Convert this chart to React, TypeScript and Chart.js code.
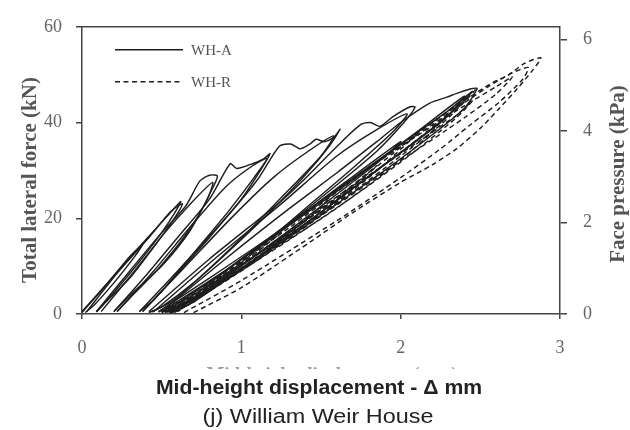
import React, { useEffect, useRef } from "react";
import { Chart, registerables } from "chart.js";

Chart.register(...registerables);

// ---- axis ticks ----
const xTicks = [0, 1, 2, 3];
const forceTicks = [0, 20, 40, 60];
const pressureTicks = [0, 2, 4, 6];
const pressureMax = 6.28;

// ---- labels ----
const legendLabels = ["WH-A", "WH-R"];
const leftTitle = "Total lateral force (kN)";
const rightTitle = "Face pressure (kPa)";
const ghostTitle = "Mid-height displacement (mm)";
const xTitle = "Mid-height displacement - \u0394 mm";
const caption = "(j) William Weir House";

// ---- WH-A (solid) cycles: [displacement mm, force kN] ----
const whA1 = [[0, 0.3], [0.15, 6], [0.3, 12], [0.38, 14.5], [0.33, 12], [0.2, 6.5], [0.08, 2], [0.02, 0.3]];
const whA2 = [[0, 0.5], [0.2, 8], [0.4, 15.5], [0.55, 21], [0.62, 23.5], [0.58, 21], [0.5, 17], [0.35, 10.5], [0.2, 4.5], [0.09, 0.5]];
const whA3 = [[0.03, 0.5], [0.22, 8.5], [0.42, 16], [0.56, 21.5], [0.63, 23], [0.57, 19.5], [0.45, 14], [0.3, 7.5], [0.15, 2.5], [0.09, 0.4]];
const whA4 = [[0.09, 0.5], [0.3, 9], [0.5, 17], [0.65, 22.5], [0.74, 27.8], [0.8, 29], [0.85, 28.8], [0.8, 25], [0.68, 17.5], [0.5, 10], [0.32, 4.5], [0.2, 0.5]];
const whA5 = [[0.12, 0.5], [0.33, 9], [0.52, 17], [0.68, 23], [0.82, 27.5], [0.78, 23.5], [0.65, 16.5], [0.48, 9.5], [0.32, 4], [0.22, 0.5]];
const whA6 = [[0.2, 0.5], [0.4, 8], [0.6, 16], [0.8, 24], [0.93, 31.4], [0.97, 30.4], [1.07, 31.4], [1.14, 32.4], [1.18, 33.5], [1.12, 30], [1.0, 24], [0.8, 16], [0.6, 8.5], [0.45, 3], [0.36, 0.5]];
const whA7 = [[0.22, 0.5], [0.45, 9], [0.7, 19], [0.9, 26.5], [1.05, 30.5], [1.16, 32.5], [1.08, 28.5], [0.92, 21.5], [0.72, 13.5], [0.52, 5.5], [0.38, 0.5]];
const whA8 = [[0.36, 0.5], [0.6, 9], [0.9, 20], [1.1, 28], [1.24, 35.1], [1.31, 35.5], [1.37, 34.5], [1.43, 35.5], [1.47, 36.5], [1.52, 36], [1.58, 36.9], [1.62, 38.6], [1.55, 35], [1.4, 29], [1.2, 22], [0.95, 14], [0.7, 6.5], [0.5, 1.5], [0.42, 0.3]];
const whA9 = [[0.38, 0.5], [0.65, 10], [0.95, 20.5], [1.2, 28.5], [1.42, 34], [1.58, 37.2], [1.5, 33], [1.3, 26], [1.05, 17.5], [0.8, 9.5], [0.58, 3], [0.44, 0.4]];
const whA10 = [[0.42, 0.5], [0.8, 11.5], [1.24, 23.3], [1.37, 27.3], [1.6, 35], [1.75, 39.6], [1.81, 40], [1.87, 39.2], [1.95, 41.2], [2.06, 43.3], [2.09, 43.2], [2.02, 40], [1.85, 34], [1.6, 27], [1.3, 19], [1.0, 11.5], [0.7, 4], [0.5, 0.5]];
const whA11 = [[0.45, 0.5], [0.85, 12], [1.25, 23], [1.6, 33], [1.85, 38.5], [2.04, 41.8], [1.95, 38], [1.7, 30.5], [1.4, 22], [1.1, 13.5], [0.8, 5.5], [0.55, 0.5]];
const whA12 = [[0.5, 0.5], [0.9, 11.5], [1.3, 22], [1.6, 29.5], [1.85, 36], [2.0, 40], [2.18, 44], [2.29, 45.3], [2.37, 46.3], [2.45, 47.1], [2.48, 47.1], [2.4, 43], [2.2, 37.5], [1.9, 30], [1.6, 23], [1.3, 16], [1.0, 9.5], [0.75, 4], [0.55, 0.5]];
const whA13 = [[0.48, 0.5], [0.8, 7.5], [1.2, 16.5], [1.6, 26], [2.0, 35.5], [2.3, 42.5], [2.45, 46.5], [2.3, 41.5], [1.95, 32.5], [1.55, 22.5], [1.15, 13], [0.8, 5], [0.55, 0.5]];
const whA14 = [[0.5, 0.5], [0.85, 8], [1.25, 17.5], [1.65, 27.5], [2.0, 36], [1.85, 31.5], [1.5, 22.5], [1.1, 12.5], [0.75, 4], [0.55, 0.3]];
const whA15 = [[0.52, 0.4], [0.9, 9], [1.3, 18.5], [1.7, 28], [2.1, 38], [2.4, 45.5], [2.25, 40], [1.85, 30], [1.45, 20], [1.05, 10.5], [0.7, 2.5], [0.56, 0.3]];

// ---- WH-R (dashed) cycles ----
const whR1 = [[0.7, 0.3], [1.0, 5.5], [1.43, 15], [1.7, 21.2], [2.0, 27.5], [2.2, 31.2], [2.35, 34.5], [2.5, 38.8], [2.62, 43], [2.73, 47], [2.83, 51], [2.88, 53.5], [2.78, 52.4], [2.67, 49.8], [2.58, 48.4], [2.45, 45.7], [2.2, 40], [1.9, 33], [1.6, 26], [1.3, 18.5], [1.0, 11], [0.75, 4.5], [0.55, 0.5]];
const whR2 = [[0.64, 0.3], [1.0, 7], [1.6, 19.5], [2.0, 28.5], [2.25, 34.5], [2.44, 39.6], [2.62, 44.3], [2.77, 49.2], [2.8, 51.5], [2.69, 50.2], [2.55, 47.5], [2.35, 43], [2.0, 35], [1.6, 26], [1.2, 16.5], [0.85, 7.5], [0.6, 1], [0.52, 0.3]];
const whR3 = [[0.58, 0.3], [1.0, 9], [1.5, 20.5], [2.0, 32], [2.4, 41], [2.6, 46], [2.7, 49.5], [2.6, 47.5], [2.4, 43.5], [2.0, 35], [1.5, 23.5], [1.0, 11.5], [0.7, 3.5], [0.52, 0.3]];
const whR4 = [[0.5, 0.3], [0.8, 5], [1.1, 11.5], [1.4, 18.5], [1.7, 25.5], [2.0, 33], [2.25, 39.5], [2.42, 45], [2.47, 47], [2.38, 44.5], [2.2, 40], [1.9, 33], [1.6, 25.5], [1.3, 18], [1.0, 11], [0.75, 4.5], [0.55, 0.5]];
const whR5 = [[0.52, 0.3], [0.85, 6], [1.2, 13.5], [1.55, 21], [1.9, 29.5], [2.15, 36.5], [2.3, 42], [2.2, 39], [1.95, 32.5], [1.6, 24], [1.25, 16], [0.9, 8], [0.65, 2], [0.55, 0.3]];
const whR6 = [[0.5, 0.4], [0.85, 7], [1.2, 14.5], [1.5, 21], [1.8, 28.5], [2.1, 37.5], [1.95, 33.5], [1.65, 25.5], [1.3, 17], [0.95, 9], [0.7, 2.5], [0.56, 0.3]];
const whR7 = [[0.52, 0.4], [0.85, 6.5], [1.2, 14], [1.55, 22.5], [1.85, 31], [1.7, 27], [1.4, 19.5], [1.1, 12], [0.8, 5], [0.6, 0.5]];
const whR8 = [[0.5, 0.4], [0.8, 6], [1.1, 12.5], [1.4, 19.5], [1.55, 24], [1.42, 20], [1.15, 13], [0.85, 6], [0.62, 1], [0.55, 0.3]];
const whR9 = [[0.48, 0.4], [0.75, 5.5], [1.0, 10.5], [1.25, 17], [1.1, 13], [0.85, 7], [0.62, 2], [0.52, 0.3]];
const whR10 = [[0.55, 0.3], [0.9, 7], [1.3, 15.5], [1.7, 24.5], [2.05, 33], [2.35, 41], [2.45, 44.5], [2.35, 41.5], [2.0, 33.5], [1.6, 24.5], [1.2, 15], [0.85, 6.5], [0.6, 0.8]];

const whACycles = [whA1, whA2, whA3, whA4, whA5, whA6, whA7, whA8, whA9, whA10, whA11, whA12, whA13, whA14, whA15];
const whRCycles = [whR1, whR2, whR3, whR4, whR5, whR6, whR7, whR8, whR9, whR10];

const SOLID = "#1e1e1e";
const DASH = [5, 3.5];
const SERIF = "'Liberation Serif', 'Times New Roman', serif";
const SANS = "'Liberation Sans', Arial, sans-serif";
const GREY = "#555555";
const AXIS = "#444444";

const decorPlugin = {
  id: "decor",
  afterDraw(chart: any) {
    const { ctx, chartArea } = chart;
    const { left, right, top } = chartArea;
    ctx.save();
    // top frame
    ctx.strokeStyle = AXIS;
    ctx.lineWidth = 1.5;
    ctx.beginPath();
    ctx.moveTo(left, top);
    ctx.lineTo(right, top);
    ctx.stroke();

    // legend
    const lx0 = left + 33, lx1 = left + 101;
    const rows = [top + 23, top + 55];
    ctx.font = `15px ${SERIF}`;
    ctx.fillStyle = GREY;
    ctx.textBaseline = "middle";
    ctx.textAlign = "left";
    rows.forEach((yy, i) => {
      ctx.strokeStyle = SOLID;
      ctx.lineWidth = 1.4;
      ctx.setLineDash(i === 0 ? [] : DASH);
      ctx.beginPath();
      ctx.moveTo(lx0, yy);
      ctx.lineTo(lx1, yy);
      ctx.stroke();
      ctx.fillText(legendLabels[i], lx1 + 8, yy + 1);
    });
    ctx.setLineDash([]);

    // axis titles (rotated)
    ctx.font = `bold 21px ${SERIF}`;
    ctx.fillStyle = GREY;
    ctx.textAlign = "center";
    ctx.textBaseline = "middle";
    ctx.save();
    ctx.translate(31, 180);
    ctx.rotate(-Math.PI / 2);
    ctx.fillText(leftTitle, 0, 0);
    ctx.restore();
    ctx.save();
    ctx.translate(619, 174);
    ctx.rotate(-Math.PI / 2);
    ctx.fillText(rightTitle, 0, 0);
    ctx.restore();

    // ghost (mostly hidden) original axis title: only the top edge shows
    ctx.save();
    ctx.beginPath();
    ctx.rect(0, 365, 630, 4);
    ctx.clip();
    ctx.font = `bold 19px ${SERIF}`;
    ctx.fillStyle = "#999";
    ctx.textBaseline = "alphabetic";
    ctx.fillText(ghostTitle, 332, 380);
    ctx.restore();

    // bottom captions
    ctx.fillStyle = "#222";
    ctx.textAlign = "center";
    ctx.textBaseline = "alphabetic";
    ctx.save();
    ctx.translate(319, 394.3);
    ctx.scale(1.06, 1);
    ctx.font = `bold 20px ${SANS}`;
    ctx.fillText(xTitle, 0, 0);
    ctx.restore();
    ctx.save();
    ctx.translate(318, 423.3);
    ctx.scale(1.17, 1);
    ctx.font = `20px ${SANS}`;
    ctx.fillText(caption, 0, 0);
    ctx.restore();
    ctx.restore();
  },
};

export default function App() {
  const ref = useRef<HTMLCanvasElement | null>(null);
  useEffect(() => {
    if (!ref.current) return;
    const mk = (pts: number[][], dashed: boolean, label: string) => ({
      label,
      data: pts.map(([x, y]) => ({ x, y })),
      showLine: true,
      borderColor: SOLID,
      borderWidth: 1.45,
      borderDash: dashed ? DASH : [],
      pointRadius: 0,
      tension: 0.25,
      fill: false,
    });
    const datasets = [
      ...whRCycles.map((c) => mk(c, true, legendLabels[1])),
      ...whACycles.map((c) => mk(c, false, legendLabels[0])),
    ];
    const tickFont = { family: SERIF, size: 18 };
    const chart = new Chart(ref.current, {
      type: "scatter",
      data: { datasets },
      plugins: [decorPlugin],
      options: {
        animation: false,
        responsive: false,
        devicePixelRatio: 1,
        layout: { padding: { top: 20, left: 0, right: 0, bottom: 0 } },
        plugins: { legend: { display: false }, tooltip: { enabled: false } },
        scales: {
          x: {
            type: "linear",
            min: 0,
            max: 3,
            afterBuildTicks: (s: any) => { s.ticks = xTicks.map((v) => ({ value: v })); },
            afterFit: (s: any) => { s.height = 116; },
            grid: { drawOnChartArea: false, drawTicks: true, tickLength: 5, color: AXIS, lineWidth: 1.5 },
            border: { display: true, color: AXIS, width: 1.5 },
            ticks: { font: tickFont, color: "#666", padding: 18, maxRotation: 0 },
          },
          y: {
            type: "linear",
            position: "left",
            min: 0,
            max: 60,
            afterBuildTicks: (s: any) => { s.ticks = forceTicks.map((v) => ({ value: v })); },
            afterFit: (s: any) => { s.width = 82; },
            grid: { drawOnChartArea: false, drawTicks: true, tickLength: 6, color: AXIS, lineWidth: 1.5 },
            border: { display: true, color: AXIS, width: 1.5 },
            ticks: { font: tickFont, color: "#666", padding: 14 },
          },
          y2: {
            type: "linear",
            position: "right",
            min: 0,
            max: pressureMax,
            afterBuildTicks: (s: any) => { s.ticks = pressureTicks.map((v) => ({ value: v })); },
            afterFit: (s: any) => { s.width = 70; },
            grid: { drawOnChartArea: false, drawTicks: true, tickLength: 7, color: AXIS, lineWidth: 1.5 },
            border: { display: true, color: AXIS, width: 1.5 },
            ticks: { font: tickFont, color: "#666", padding: 16 },
          },
        },
      },
    } as any);
    return () => chart.destroy();
  }, []);
  return (
    <div style={{ position: "fixed", left: 0, top: 0, width: 630, height: 430, background: "#fff" }}>
      <canvas ref={ref} width={630} height={430} style={{ width: 630, height: 430, display: "block" }} />
    </div>
  );
}
